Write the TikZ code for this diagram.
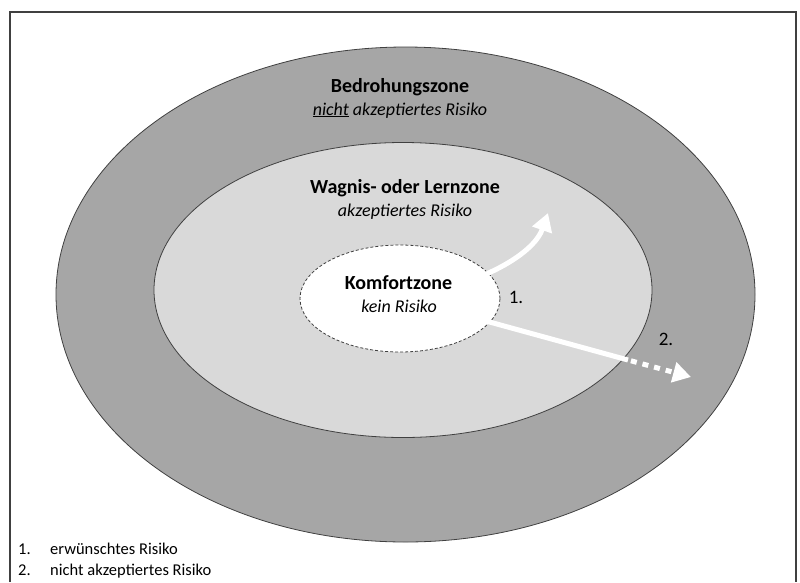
\documentclass[tikz,border=0pt]{standalone}
\usepackage{fontspec}
\setmainfont{Carlito}
\usepackage{tikz}
\usetikzlibrary{positioning,arrows.meta,shapes.geometric}
\definecolor{zoneDunkel}{HTML}{A6A6A6}
\definecolor{zoneHell}{HTML}{D9D9D9}
\definecolor{randGrau}{HTML}{404040}

\begin{document}
\begin{tikzpicture}[>={Triangle[width=20pt,length=18pt]}, zone/.style={ellipse, draw=randGrau, line width=0.8pt, inner sep=0pt}, titel/.style={anchor=base, font=\fontsize{20}{24}\selectfont\bfseries}, risiko/.style={anchor=base, font=\fontsize{18}{22}\selectfont\itshape}, nummer/.style={anchor=base, font=\fontsize{19}{23}\selectfont}, legende/.style={anchor=base west, inner sep=0pt, font=\fontsize{16.5}{20}\selectfont}, pfeil/.style={draw=white, line width=5pt}]
\useasboundingbox (0.0pt, 0.0pt) rectangle (800.0pt, -582.0pt);
\draw[randGrau, line width=1.5pt] (10.0pt, -582.0pt) -- (10.0pt, -12.0pt) -- (796.0pt, -12.0pt) -- (796.0pt, -582.0pt);
\draw (405.5pt, -294.5pt)node[zone, fill=zoneDunkel, minimum width=699pt, minimum height=495pt](bedrohung){};
\draw (403.0pt, -290.0pt)node[zone, fill=zoneHell, minimum width=498pt, minimum height=295pt](lernzone){};
\draw (400.0pt, -298.5pt)node[zone, fill=white, dash pattern=on 3pt off 2pt, minimum width=200pt, minimum height=107pt](komfort){};
\draw (400.0pt, -92.5pt)node[titel](bedrohungTitel){Bedrohungszone};
\draw (400.0pt, -115.0pt)node[risiko](bedrohungRisiko){\underline{nicht} akzeptiertes Risiko};
\draw (405.0pt, -193.0pt)node[titel](lernTitel){Wagnis- oder Lernzone};
\draw (405.0pt, -216.0pt)node[risiko](lernRisiko){akzeptiertes Risiko};
\draw (398.5pt, -289.0pt)node[titel](komfortTitel){Komfortzone};
\draw (399.0pt, -312.0pt)node[risiko](komfortRisiko){kein Risiko};
\draw (516.0pt, -303.0pt)node[nummer](nr1){1.};
\draw (666.0pt, -345.0pt)node[nummer](nr2){2.};
\coordinate (start1) at (471.0pt, -280.0pt);
\coordinate (ziel1) at (548.0pt, -213.0pt);
\coordinate (start2) at (475.0pt, -318.0pt);
\coordinate (grenze) at (628.0pt, -360.0pt);
\coordinate (ziel2) at (691.0pt, -377.0pt);
\draw[pfeil, ->] (start1) .. controls (500.0pt, -270.0pt) and (535.0pt, -250.0pt) .. (ziel1);
\draw[pfeil] (start2) -- (grenze);
\draw[pfeil, dash pattern=on 6pt off 6pt, dash phase=9pt, ->] (grenze) -- (ziel2);
\draw (18.0pt, -554.0pt)node[legende](nr1text){1.};
\draw (50.0pt, -554.0pt)node[legende](legende1){erwünschtes Risiko};
\draw (18.0pt, -575.0pt)node[legende](nr2text){2.};
\draw (50.0pt, -575.0pt)node[legende](legende2){nicht akzeptiertes Risiko};
\end{tikzpicture}
\end{document}
